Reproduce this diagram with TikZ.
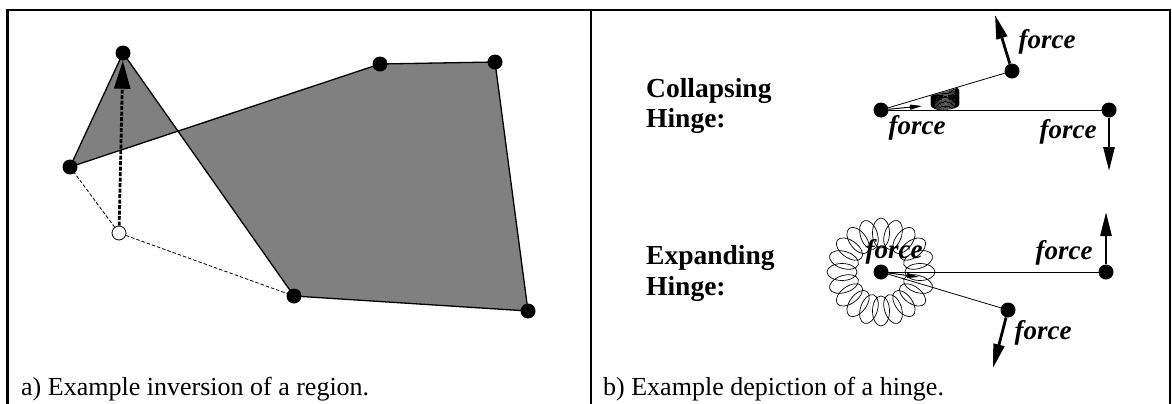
\documentclass[tikz,border=0pt]{standalone}
\usepackage{fontspec}
\setmainfont{Liberation Serif}
\usetikzlibrary{arrows.meta,decorations.pathmorphing}
\tikzset{
  vtx/.style={circle,fill=black,inner sep=0pt,minimum size=15bp},
  hollowvtx/.style={circle,draw=black,line width=0.8bp,fill=white,inner sep=0pt,minimum size=14bp},
  frameline/.style={line width=2.5bp,line cap=rect},
  edge/.style={line width=1.3bp},
  thinedge/.style={line width=0.8bp},
  dashedge/.style={line width=0.8bp,dash pattern=on 3.5bp off 2bp},
  movearrow/.style={line width=2.8bp,dash pattern=on 4bp off 1.5bp,-{Triangle[length=28bp,width=16bp]}},
  forcearrow/.style={line width=2.8bp,-{Triangle[length=24bp,width=11bp]}},
  smallarrow/.style={line width=1bp,-{Triangle[length=12bp,width=5bp]}},
  captext/.style={font=\fontsize{26bp}{30bp}\selectfont,inner sep=0pt,anchor=base west},
  hingetext/.style={font=\fontsize{27.5bp}{31bp}\selectfont\bfseries,inner sep=0pt,anchor=base west},
  forcetext/.style={font=\fontsize{27bp}{31bp}\selectfont\bfseries\itshape,inner sep=0pt},
}
\begin{document}
\begin{tikzpicture}[x=1bp,y=-1bp]
\useasboundingbox (0,0) rectangle (1172,403);
% frame
\draw[frameline] (7.5,410) -- (7.5,10) -- (1170,10) -- (1170,410);
\draw[frameline] (591,10) -- (591,410);

% ---------- panel a ----------
\coordinate (A) at (123,53);
\coordinate (B) at (70,167);
\coordinate (C) at (380,64);
\coordinate (D) at (495,62);
\coordinate (E) at (528,311);
\coordinate (F) at (294,296);
\fill[black!50] (B) -- (A) -- (F) -- (E) -- (D) -- (C) -- cycle;
\draw[edge] (B) -- (A) -- (F) -- (E) -- (D) -- (C) -- cycle;
\node[hollowvtx] (G) at (119,233) {};
\draw[dashedge] (B) -- (G) -- (F);
\node[vtx] (nA) at (A) {};
\node[vtx] (nB) at (B) {};
\node[vtx] (nC) at (C) {};
\node[vtx] (nD) at (D) {};
\node[vtx] (nE) at (E) {};
\node[vtx] (nF) at (F) {};
\draw[movearrow] (G) -- (nA);
\node[captext] (capa) at (21,395) {a) Example inversion of a region.};

% ---------- panel b: collapsing ----------
\node[hingetext] (col1) at (646,97) {Collapsing};
\node[hingetext] (col2) at (646,127) {Hinge:};
\node[vtx] (P1) at (881,110) {};
\node[vtx] (P2) at (1012,71) {};
\node[vtx] (P3) at (1109,110) {};
\draw[thinedge] (P1.center) -- (P2.center);
\draw[thinedge] (P1.center) -- (P3.center);
\begin{scope}
\clip (881,110.6) -- (1012,71.6) -- (1012,110.6) -- cycle;
\draw[line width=0.8bp,decorate,decoration={coil,amplitude=14bp,segment length=1.3bp,aspect=0.4}] (945,110.5) -- (945,84);
\end{scope}
\coordinate (P1t) at (922,106);
\coordinate (P2t) at (995,15);
\coordinate (P3t) at (1109,171);
\draw[smallarrow] (P1) -- (P1t);
\draw[forcearrow] (P2) -- (P2t);
\draw[forcearrow] (P3) -- (P3t);
\node[forcetext] (f1) at (1047,42) {force};
\node[forcetext] (f2) at (917,128) {force};
\node[forcetext] (f3) at (1068,132) {force};

% ---------- panel b: expanding ----------
\node[hingetext] (exp1) at (646,264) {Expanding};
\node[hingetext] (exp2) at (646,295) {Hinge:};
\coordinate (Qc) at (881,272);
\foreach \a in {0,18,...,342}{
  \draw[line width=0.7bp,rotate around={\a:(Qc)}] (920,272) ellipse [x radius=15bp, y radius=8.5bp];
}
\node[vtx] (Q1) at (Qc) {};
\node[vtx] (Q2) at (1106,272) {};
\node[vtx] (Q3) at (1008,310) {};
\draw[thinedge] (Q1.center) -- (Q2.center);
\draw[thinedge] (Q1.center) -- (Q3.center);
\coordinate (Q1t) at (919,277);
\coordinate (Q2t) at (1106,212);
\coordinate (Q3t) at (993,368);
\draw[smallarrow] (Q1) -- (Q1t);
\draw[forcearrow] (Q2) -- (Q2t);
\draw[forcearrow] (Q3) -- (Q3t);
\node[forcetext] (f4) at (894,252) {force};
\node[forcetext] (f5) at (1064,253) {force};
\node[forcetext] (f6) at (1043,333) {force};
\node[captext] (capb) at (603,395) {b) Example depiction of a hinge.};
\end{tikzpicture}
\end{document}
